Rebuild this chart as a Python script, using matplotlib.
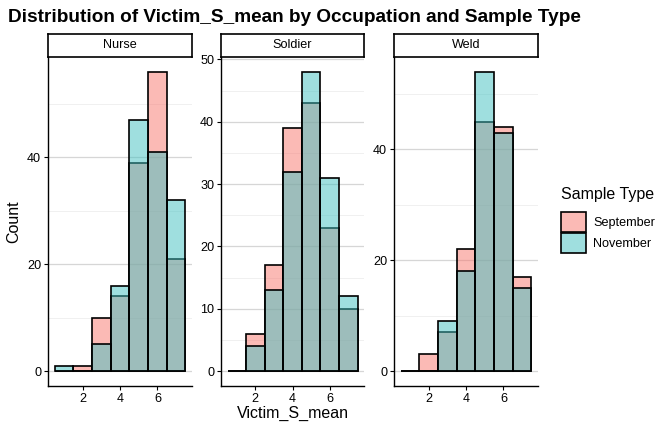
import numpy as np
import matplotlib
matplotlib.use("Agg")
import matplotlib.pyplot as plt
from matplotlib.patches import Patch
from matplotlib.colors import to_rgba

plt.rcParams['font.family'] = ['Liberation Sans', 'DejaVu Sans']

# histogram bin centres (binwidth 1)
bins = [1, 2, 3, 4, 5, 6, 7]
occupations = ["Nurse", "Soldier", "Weld"]

# counts per bin
nurse_sep = [0, 1, 10, 14, 39, 56, 21]
nurse_nov = [1, 0, 5, 16, 47, 41, 32]
soldier_sep = [0, 6, 17, 39, 43, 23, 10]
soldier_nov = [0, 4, 13, 32, 48, 31, 12]
weld_sep = [0, 3, 7, 22, 45, 44, 17]
weld_nov = [0, 0, 9, 18, 54, 43, 15]

sep_counts = [nurse_sep, soldier_sep, weld_sep]
nov_counts = [nurse_nov, soldier_nov, weld_nov]

major_ticks = [[0, 20, 40], [0, 10, 20, 30, 40, 50], [0, 20, 40]]
minor_ticks = [[10, 30, 50], [5, 15, 25, 35, 45], [10, 30, 50]]

pink = "#F8766D"
cyan = "#40C1C1"

W, H = 672, 432
fig = plt.figure(figsize=(W / 100, H / 100), dpi=100)

panels_x = [(48, 192), (221, 364), (394, 538)]
top_px, bot_px = 57, 386
strip_top = 34

for i, occ in enumerate(occupations):
    x0, x1 = panels_x[i]
    ax = fig.add_axes([x0 / W, (H - bot_px) / H, (x1 - x0) / W, (bot_px - top_px) / H])
    sep = sep_counts[i]
    nov = nov_counts[i]
    ymax = max(max(sep), max(nov))
    ax.set_ylim(-0.05 * ymax, 1.05 * ymax)
    ax.set_xlim(0.5 - 0.35, 7.5 + 0.35)
    for y in minor_ticks[i]:
        ax.axhline(y, color="#EEEEEE", lw=0.6, zorder=0)
    for y in major_ticks[i]:
        ax.axhline(y, color="#D6D6D6", lw=0.9, zorder=0)
    ax.bar(bins, sep, width=1, color=pink, alpha=0.5, edgecolor="none", zorder=2)
    ax.bar(bins, sep, width=1, fill=False, edgecolor="black", lw=1.2, zorder=3)
    ax.bar(bins, nov, width=1, color=cyan, alpha=0.5, edgecolor="none", zorder=4)
    ax.bar(bins, nov, width=1, fill=False, edgecolor="black", lw=1.2, zorder=5)
    ax.set_yticks(major_ticks[i])
    ax.set_xticks([2, 4, 6])
    ax.tick_params(length=3, width=0.8, labelsize=9.1, colors="black", pad=2)
    for s in ["top", "right"]:
        ax.spines[s].set_visible(False)
    for s in ["left", "bottom"]:
        ax.spines[s].set_linewidth(1.0)
    # strip label
    sax = fig.add_axes([x0 / W, (H - top_px) / H, (x1 - x0) / W, (top_px - strip_top) / H])
    sax.set_xticks([])
    sax.set_yticks([])
    for s in sax.spines.values():
        s.set_linewidth(1.2)
    sax.text(0.5, 0.5, occ, ha="center", va="center", fontsize=9.1, transform=sax.transAxes)

fig.text(8 / W, 1 - 17 / H, "Distribution of Victim_S_mean by Occupation and Sample Type",
         fontsize=13.7, fontweight="bold", ha="left", va="center")
fig.text(14 / W, 1 - ((top_px + bot_px) / 2) / H, "Count", rotation=90,
         fontsize=11.5, ha="center", va="center")
fig.text(293 / W, 1 - 413 / H, "Victim_S_mean", fontsize=11.5, ha="center", va="center")

# legend: title as separate text, entries below
fig.text(561 / W, 1 - 195 / H, "Sample Type", fontsize=11.5, ha="left", va="center")
handles = [Patch(facecolor=to_rgba(pink, 0.5), edgecolor="black", lw=1.2),
           Patch(facecolor=to_rgba(cyan, 0.5), edgecolor="black", lw=1.2)]
leg = fig.legend(handles, ["September", "November"],
                 loc="upper left", bbox_to_anchor=(556 / W, 1 - 207 / H),
                 frameon=False, fontsize=9.1,
                 handlelength=2.0, handleheight=2.0, handletextpad=0.55,
                 labelspacing=0.15, borderaxespad=0)

fig.savefig("out.png", dpi=100)
